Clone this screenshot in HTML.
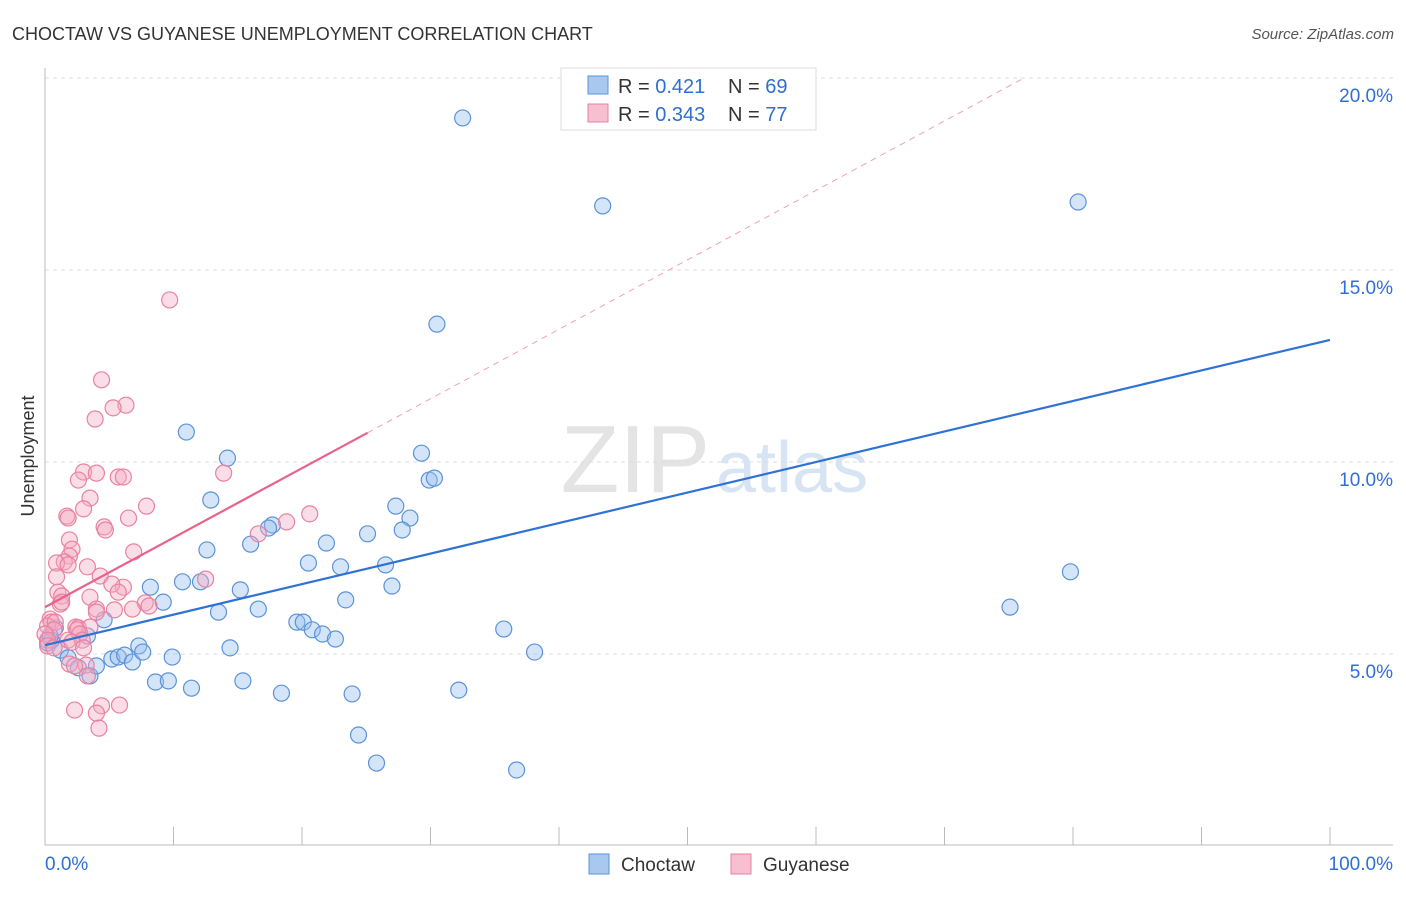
<!DOCTYPE html>
<html><head><meta charset="utf-8"><style>
body{margin:0;background:#fff;font-family:"Liberation Sans",sans-serif}
svg text{font-family:"Liberation Sans",sans-serif}
</style></head><body>
<svg id="c" width="1406" height="892">
<text x="12" y="40" font-size="18" fill="#333">CHOCTAW VS GUYANESE UNEMPLOYMENT CORRELATION CHART</text>
<text x="1394" y="39" font-size="15" fill="#555" font-style="italic" text-anchor="end">Source: ZipAtlas.com</text>
<text x="710" y="492" font-size="96" fill="#e4e4e4" text-anchor="end" font-family="Liberation Serif">ZIP</text>
<text x="716" y="492" font-size="72" fill="#d6e4f4">atlas</text>
<text transform="translate(34,456) rotate(-90)" font-size="18" fill="#333" text-anchor="middle">Unemployment</text>
<g id="grid"></g><g id="pts"></g><g id="lines"></g>
<g>
<rect x="561" y="68" width="255" height="62" fill="#fff" stroke="#ddd"/>
<rect x="588" y="76" width="20" height="18" fill="#a8c8f0" stroke="#5b93d8"/>
<rect x="588" y="104" width="20" height="18" fill="#f7bfd0" stroke="#e8829f"/>
<text x="618" y="93" font-size="20" fill="#333">R = <tspan fill="#2f6fd0">0.421</tspan><tspan x="728">N = </tspan><tspan fill="#2f6fd0">69</tspan></text>
<text x="618" y="121" font-size="20" fill="#333">R = <tspan fill="#2f6fd0">0.343</tspan><tspan x="728">N = </tspan><tspan fill="#2f6fd0">77</tspan></text>
</g>
<g>
<rect x="589" y="854" width="20" height="20" fill="#a8c8f0" stroke="#5b93d8"/>
<text x="621" y="871" font-size="19" fill="#333">Choctaw</text>
<rect x="731" y="854" width="20" height="20" fill="#f7bfd0" stroke="#e8829f"/>
<text x="763" y="871" font-size="19" fill="#333">Guyanese</text>
</g>
</svg>
<script>
const yTicks=[5,10,15,20];
const blueX=[32.5,43.4,80.4,30.5,11.0,14.2,29.3,29.9,30.3,12.9,27.3,28.4,17.7,17.4,16.0,27.8,25.1,21.9,12.6,20.5,23.0,26.5,27.0,8.2,10.7,12.1,15.2,9.2,23.4,13.5,16.6,19.6,20.1,20.8,21.6,22.6,35.7,38.1,79.8,75.1,4.6,0.8,0.2,1.2,1.8,2.6,3.5,4.0,5.2,5.7,6.2,6.8,7.3,7.6,9.9,14.4,8.6,9.6,11.4,15.4,18.4,23.9,32.2,24.4,25.8,36.7,0.5,0.4,3.3];
const blueY=[18.96,16.67,16.77,13.59,10.78,10.10,10.23,9.53,9.58,9.01,8.85,8.54,8.36,8.28,7.86,8.23,8.13,7.89,7.71,7.37,7.27,7.32,6.77,6.74,6.88,6.88,6.67,6.35,6.41,6.09,6.17,5.83,5.83,5.63,5.52,5.39,5.65,5.05,7.14,6.22,5.89,5.68,5.29,5.10,4.90,4.64,4.43,4.69,4.87,4.92,4.97,4.79,5.21,5.05,4.92,5.16,4.27,4.30,4.11,4.30,3.98,3.96,4.06,2.89,2.16,1.98,5.36,5.47,5.47];
const pinkX=[9.7,4.4,6.3,5.3,3.9,13.9,3.0,4.0,5.7,6.1,2.6,3.5,7.9,3.0,1.7,1.8,6.5,4.6,4.7,20.6,18.8,16.6,1.9,2.1,6.9,1.9,1.5,0.9,1.8,3.3,0.9,4.3,12.5,6.1,5.2,5.7,1.0,1.3,1.2,1.3,3.5,7.8,8.1,4.0,6.8,5.4,4.0,0.4,0.5,0.2,0.8,2.4,2.6,3.5,2.5,2.7,0.7,0.0,0.2,1.8,2.9,0.2,0.7,2.1,3.0,1.9,3.2,2.3,3.3,5.8,2.3,4.4,4.0,4.2];
const pinkY=[14.22,12.14,11.48,11.41,11.12,9.71,9.74,9.71,9.61,9.61,9.53,9.06,8.85,8.78,8.59,8.54,8.54,8.31,8.23,8.65,8.44,8.13,7.97,7.73,7.66,7.55,7.40,7.37,7.32,7.27,7.01,7.03,6.95,6.74,6.82,6.61,6.61,6.51,6.30,6.35,6.48,6.33,6.25,6.17,6.17,6.15,6.09,5.91,5.83,5.73,5.83,5.70,5.68,5.70,5.63,5.52,5.63,5.52,5.36,5.36,5.36,5.21,5.16,5.31,5.16,4.74,4.71,4.69,4.43,3.67,3.54,3.65,3.46,3.07];
const blueTrend=[5.23,13.18];
const pinkTrend=[6.22,10.76,25.1];
const X=v=>45+v*12.85, Y=v=>846-v*38.4;
const NS="http://www.w3.org/2000/svg";
function mk(t,a,p){const e=document.createElementNS(NS,t);for(const k in a)e.setAttribute(k,a[k]);p.appendChild(e);return e;}
const grid=document.getElementById('grid');
yTicks.forEach(t=>{
 const l=mk('line',{x1:45,x2:1393,y1:Y(t),y2:Y(t),stroke:'#ddd','stroke-dasharray':'4,4'},grid);
 
 
 const tx=mk('text',{x:1393,y:Y(t)+24,'font-size':19,fill:'#2f6fd0','text-anchor':'end'},grid);
 tx.textContent=t.toFixed(1)+'%';
 
 
});
const ax=mk('line',{x1:45,x2:45,y1:68,y2:845,stroke:'#bbb'},grid);


const bx=mk('line',{x1:45,x2:1393,y1:845,y2:845,stroke:'#bbb'},grid);


for(let k=1;k<=10;k++){const t=mk('line',{x1:X(k*10),x2:X(k*10),y1:827,y2:845,stroke:'#bbb'},grid);
 
 }
[['0.0%',45,'start'],['100.0%',1393,'end']].forEach(([s,x,a])=>{const t=mk('text',{x:x,y:870,'font-size':19,fill:'#2f6fd0','text-anchor':a},grid);t.textContent=s;
 
 });
const pts=document.getElementById('pts');
blueX.forEach((v,i)=>{const c=mk('circle',{cx:X(v),cy:Y(blueY[i]),r:8,fill:'rgba(150,190,240,0.4)',stroke:'#5b93d8','stroke-width':1.2},pts);
 
 });
pinkX.forEach((v,i)=>{const c=mk('circle',{cx:X(v),cy:Y(pinkY[i]),r:8,fill:'rgba(244,170,195,0.4)',stroke:'#e8829f','stroke-width':1.2},pts);
 
 });
const lines=document.getElementById('lines');
const bl=mk('line',{x1:X(0),y1:Y(blueTrend[0]),x2:X(100),y2:Y(blueTrend[1]),stroke:'#2f72d6','stroke-width':2.2},lines);


const slope=(pinkTrend[1]-pinkTrend[0])/pinkTrend[2];
const xEnd=(20-pinkTrend[0])/slope;
const pd=mk('line',{x1:X(pinkTrend[2]),y1:Y(pinkTrend[1]),x2:X(xEnd),y2:Y(20),stroke:'#f0a0b8','stroke-width':1,'stroke-dasharray':'6,5'},lines);


const pl=mk('line',{x1:X(0),y1:Y(pinkTrend[0]),x2:X(pinkTrend[2]),y2:Y(pinkTrend[1]),stroke:'#e8628c','stroke-width':2.2},lines);


</script>
</body></html>
